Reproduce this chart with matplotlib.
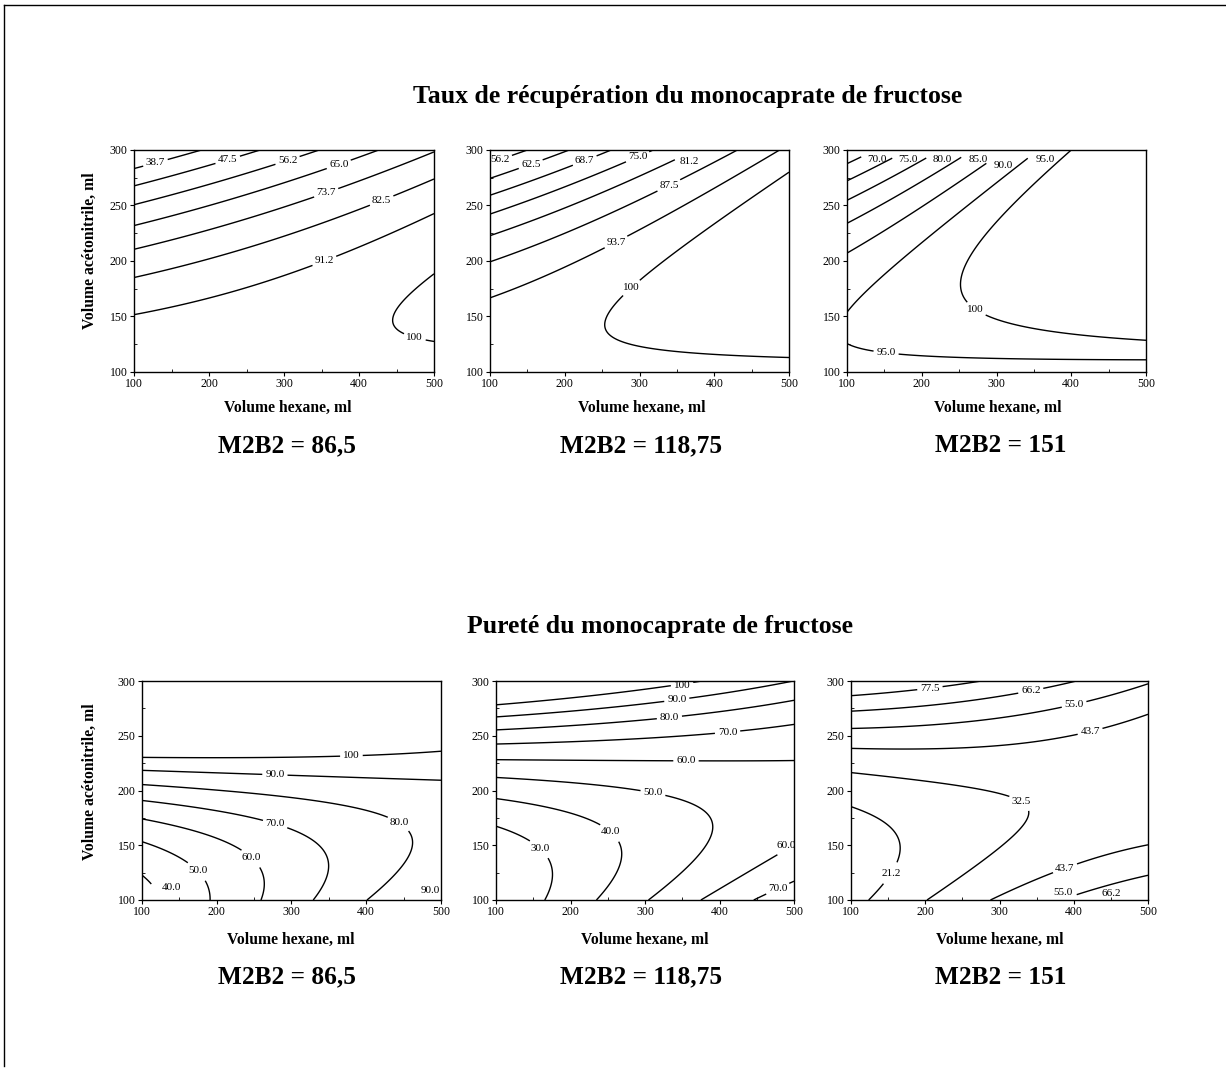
import numpy as np
import matplotlib
matplotlib.use("Agg")
import matplotlib.pyplot as plt
from matplotlib.lines import Line2D

plt.rcParams['font.family'] = ['Liberation Serif', 'DejaVu Serif']

# ---------------- data ----------------
hexane = [100, 200, 300, 400, 500]          # Volume hexane, ml (grid columns)
acetonitrile = [100, 150, 200, 250, 300]    # Volume acétonitrile, ml (grid rows)

# Taux de récupération, rows = acetonitrile 100..300, cols = hexane 100..500
recov_865 = [
    [98.6, 98.26, 97.80, 97.25, 96.59],
    [91.6, 94.17, 96.61, 98.96, 101.21],
    [77.6, 83.07, 88.42, 93.68, 98.83],
    [56.6, 64.98, 73.23, 81.39, 89.45],
    [28.6, 39.89, 51.04, 62.11, 73.07],
]
recov_11875 = [
    [97.8, 97.9, 97.7, 97.3, 96.8],
    [95.8, 98.6, 101.2, 103.8, 106.1],
    [87.4, 92.7, 98.2, 103.8, 109.0],
    [72.4, 80.4, 88.7, 97.3, 105.3],
    [51.0, 61.5, 72.7, 84.3, 95.2],
]
recov_151 = [
    [93.61, 93.05, 92.45, 91.79, 91.10],
    [95.35, 97.92, 100.45, 102.92, 105.36],
    [90.89, 96.59, 102.24, 107.85, 113.42],
    [80.22, 89.05, 97.84, 106.58, 115.28],
    [66.0, 78.5, 88.5, 99.6, 111.0],
]
# Pureté
pur_865 = [
    [36.2, 51.32, 65.90, 79.87, 93.29],
    [48.67, 58.04, 66.92, 75.16, 82.88],
    [76.12, 79.76, 82.94, 85.45, 87.47],
    [118.6, 116.5, 113.96, 110.74, 107.06],
    [176.0, 168.2, 159.98, 151.03, 141.65],
]
pur_11875 = [
    [20.48, 34.99, 49.34, 63.54, 77.56],
    [25.15, 34.11, 42.91, 51.55, 60.03],
    [43.58, 46.98, 50.22, 53.31, 56.25],
    [75.75, 73.60, 71.29, 68.82, 66.22],
    [121.68, 113.97, 106.10, 98.08, 89.94],
]
pur_151 = [
    [17.67, 32.17, 45.27, 56.97, 67.26],
    [14.92, 24.27, 32.21, 38.75, 43.88],
    [25.92, 30.11, 32.90, 34.28, 34.26],
    [50.67, 49.71, 47.34, 43.56, 38.38],
    [89.17, 83.05, 75.52, 66.59, 56.26],
]

levels_A = [38.75, 47.5, 56.25, 65.0, 73.75, 82.5, 91.25, 100]
labels_A = ["38.7", "47.5", "56.2", "65.0", "73.7", "82.5", "91.2", "100"]
levels_B = [56.25, 62.5, 68.75, 75.0, 81.25, 87.5, 93.75, 100]
labels_B = ["56.2", "62.5", "68.7", "75.0", "81.2", "87.5", "93.7", "100"]
levels_C = [70, 75, 80, 85, 90, 95, 100]
labels_C = ["70.0", "75.0", "80.0", "85.0", "90.0", "95.0", "100"]
levels_D = [40, 50, 60, 70, 80, 90, 100]
labels_D = ["40.0", "50.0", "60.0", "70.0", "80.0", "90.0", "100"]
levels_E = [30, 40, 50, 60, 70, 80, 90, 100]
labels_E = ["30.0", "40.0", "50.0", "60.0", "70.0", "80.0", "90.0", "100"]
levels_F = [21.25, 32.5, 43.75, 55.0, 66.25, 77.5]
labels_F = ["21.2", "32.5", "43.7", "55.0", "66.2", "77.5"]

m2b2 = ["86,5", "118,75", "151"]
x_ticks = [100, 200, 300, 400, 500]
y_ticks = [100, 150, 200, 250, 300]

# ---------------- layout ----------------
W, H = 1226, 1070
fig = plt.figure(figsize=(W / 100, H / 100), dpi=100)
fig.patch.set_facecolor('white')

def fx(x):
    return x / W

def fy(y):
    return 1 - y / H

def add_axes_px(x0, y0, x1, y1):
    return fig.add_axes([fx(x0), fy(y1), (x1 - x0) / W, (y1 - y0) / H])

# where each contour level gets its label(s): one list of anchor points per level
lab_pos = {
    'A': [[(128, 290)], [(225, 291)], [(305, 290)], [(372, 289)], [(357, 260)],
          [(431, 253)], [(355, 198)], [(475, 133)]],
    'B': [[(114, 290)], [(153, 290)], [(227, 290)], [(300, 290)], [(367, 290)],
          [(343, 263)], [(274, 210)], [(297, 170)]],
    'C': [[(140, 291)], [(181, 291)], [(227, 291)], [(275, 291)], [(309, 286)],
          [(365, 291), (151, 110)], [(274, 158)]],
    'D': [[(140, 111)], [(182, 132)], [(254, 144)], [(281, 176)], [(448, 175)],
          [(278, 219), (485, 109)], [(380, 235)]],
    'E': [[(163, 150)], [(260, 167)], [(313, 206)], [(355, 228), (490, 150)],
          [(411, 252), (477, 112)], [(333, 265)], [(343, 281)], [(350, 296)]],
    'F': [[(143, 129)], [(337, 199)], [(422, 254), (385, 135)], [(400, 280), (385, 107)],
          [(341, 295), (450, 106)], [(206, 295)]],
}

panels = [
    ('A', recov_865, levels_A, labels_A, (134, 150, 434, 372)),
    ('B', recov_11875, levels_B, labels_B, (490, 150, 789, 372)),
    ('C', recov_151, levels_C, labels_C, (847, 150, 1146, 372)),
    ('D', pur_865, levels_D, labels_D, (142, 681, 441, 900)),
    ('E', pur_11875, levels_E, labels_E, (496, 681, 794, 900)),
    ('F', pur_151, levels_F, labels_F, (851, 681, 1148, 900)),
]


def fit_surface(zgrid):
    X, Y = np.meshgrid(hexane, acetonitrile)
    u = ((X - 300) / 200).ravel()
    v = ((Y - 200) / 100).ravel()
    A = np.column_stack([np.ones_like(u), u, v, u ** 2, v ** 2, u * v])
    coef, *_ = np.linalg.lstsq(A, np.asarray(zgrid, float).ravel(), rcond=None)
    xf = np.linspace(100, 500, 301)
    yf = np.linspace(100, 300, 301)
    XF, YF = np.meshgrid(xf, yf)
    uf = (XF - 300) / 200
    vf = (YF - 200) / 100
    Z = (coef[0] + coef[1] * uf + coef[2] * vf + coef[3] * uf ** 2
         + coef[4] * vf ** 2 + coef[5] * uf * vf)
    return XF, YF, Z


for key, zgrid, levels, labels, box in panels:
    ax = add_axes_px(*box)
    ax.set_xlim(100, 500)
    ax.set_ylim(100, 300)
    XF, YF, Z = fit_surface(zgrid)
    for lv, lb, pts in zip(levels, labels, lab_pos[key]):
        cs = ax.contour(XF, YF, Z, levels=[lv], colors='black', linewidths=1.0)
        texts = ax.clabel(cs, inline=True, inline_spacing=3, fontsize=8,
                          fmt={lv: lb}, manual=pts)
        for t, p in zip(texts, pts):
            t.set_rotation(0)
            sx, sy = t.get_position()
            # labels that would sit on the frame keep the spot
            if sy > 294 or sy < 106 or sx > 488 or sx < 112:
                t.set_position(p)
            t.set_clip_on(False)
    ax.set_xlim(100, 500)
    ax.set_ylim(100, 300)
    ax.set_xticks(x_ticks)
    ax.set_yticks(y_ticks)
    ax.set_xticks(np.arange(150, 500, 100), minor=True)
    ax.set_yticks(np.arange(125, 300, 50), minor=True)
    ax.tick_params(which='major', direction='out', length=3, width=0.8,
                   labelsize=8.5, pad=1.5)
    ax.tick_params(which='minor', direction='in', length=2, width=0.6)
    for sp in ax.spines.values():
        sp.set_linewidth(1.0)

# axis labels
for cx, cy in [(288, 408), (642, 408), (998, 408), (291, 940), (645, 940), (1000, 940)]:
    fig.text(fx(cx), fy(cy), "Volume hexane, ml", ha='center', va='center',
             fontsize=11.3, fontweight='bold')
for cy in [251, 782]:
    fig.text(fx(90), fy(cy), "Volume acétonitrile, ml", ha='center', va='center',
             rotation=90, fontsize=11.3, fontweight='bold')

# titles
fig.text(fx(688), fy(96), "Taux de récupération du monocaprate de fructose",
         ha='center', va='center', fontsize=18.5, fontweight='bold')
fig.text(fx(660), fy(626), "Pureté du monocaprate de fructose",
         ha='center', va='center', fontsize=18.5, fontweight='bold')

for cx, val in zip([287, 641, 1001], m2b2):
    fig.text(fx(cx), fy(446), f"M2B2 = {val}", ha='center', va='center',
             fontsize=18.3, fontweight='bold')
    fig.text(fx(cx), fy(977), f"M2B2 = {val}", ha='center', va='center',
             fontsize=18.3, fontweight='bold')

# frame lines of the page
fig.add_artist(Line2D([fx(4), fx(4)], [fy(5), fy(1066)], color='black', lw=1.0))
fig.add_artist(Line2D([fx(4), 1.0], [fy(5), fy(5)], color='black', lw=1.0))

fig.savefig("out.png", dpi=100, facecolor='white')
